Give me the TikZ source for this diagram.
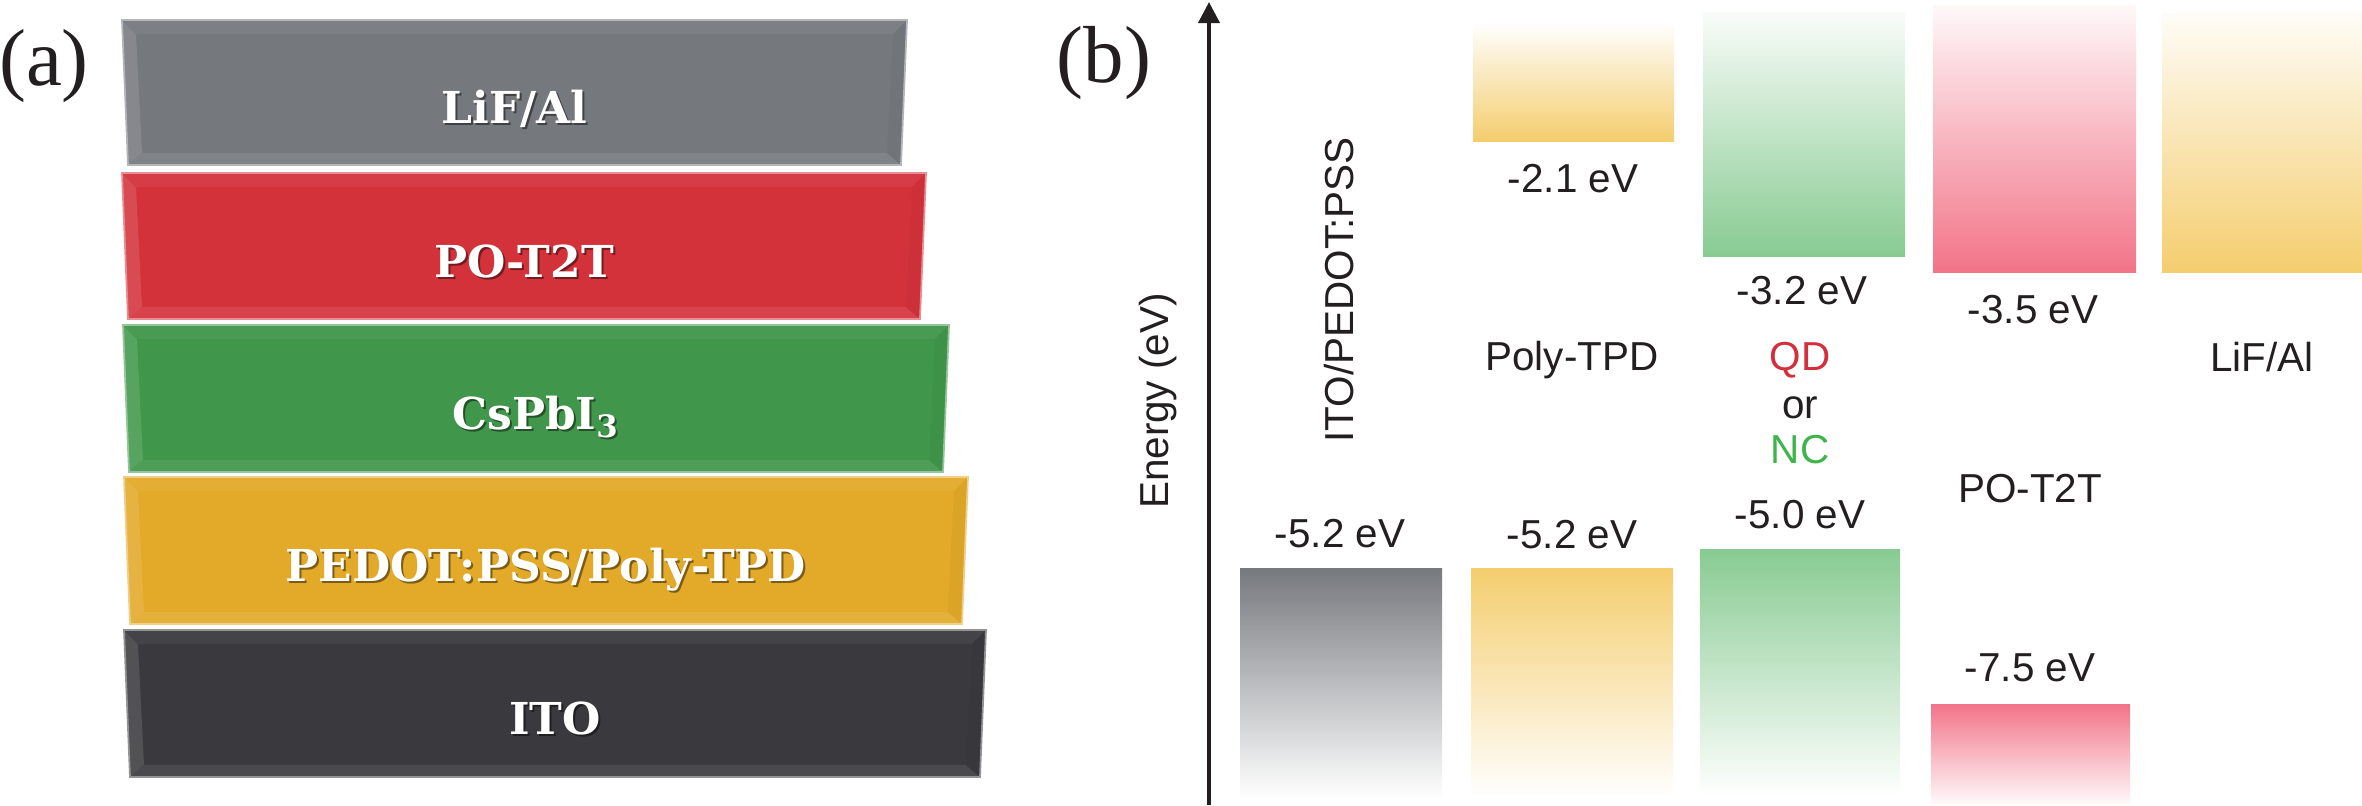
\documentclass[tikz,border=0pt]{standalone}
\usepackage{fontspec}
\setmainfont{Liberation Sans}
\newfontfamily\panelfont{Liberation Serif}
\newfontfamily\slabfont{DejaVu Serif}
\usetikzlibrary{arrows.meta}

\definecolor{lifgray}{HTML}{75787D}
\definecolor{potred}{HTML}{D4323B}
\definecolor{csgreen}{HTML}{40964A}
\definecolor{pedyellow}{HTML}{E3A928}
\definecolor{itodark}{HTML}{3A3A3E}
\definecolor{bargray}{HTML}{76797E}
\definecolor{baryellow}{HTML}{F4CD6E}
\definecolor{bargreen}{HTML}{88CB92}
\definecolor{barpink}{HTML}{F27488}
\definecolor{qdred}{HTML}{D42F3C}
\definecolor{ncgreen}{HTML}{3DB54A}
\definecolor{txt}{HTML}{231F20}

\tikzset{
  boxtext/.style={font=\slabfont\bfseries\fontsize{12.5}{15}\selectfont, text=white, anchor=base, inner sep=0pt},
  boxshadow/.style={boxtext, text=black, opacity=0.45},
  lbl/.style={font=\fontsize{11.5}{13}\selectfont, text=txt, anchor=base, inner sep=0pt},
  paneltag/.style={font=\panelfont\fontsize{23}{27}\selectfont, text=txt, inner sep=0pt},
}

% #1 name, #2 ytop, #3 ybot, #4 xleft, #5 xright, #6 colour, #7 text
\newcommand\layerbox[7]{%
  \fill[#6] (#4,#2) -- (#5,#2) -- ({#5-6},#3) -- ({#4+6},#3) -- cycle;
  \fill[#6!88!white] (#4,#2) -- ({#4+14},{#2+14}) -- ({#4+20},{#3-12}) -- ({#4+6},#3) -- cycle;
  \fill[#6!95!white] (#4,#2) -- (#5,#2) -- ({#5-14},{#2+14}) -- ({#4+14},{#2+14}) -- cycle;
  \fill[#6!92!white] ({#4+6},#3) -- ({#5-6},#3) -- ({#5-20},{#3-12}) -- ({#4+20},{#3-12}) -- cycle;
  \fill[#6!97!black] (#5,#2) -- ({#5-6},#3) -- ({#5-20},{#3-12}) -- ({#5-14},{#2+14}) -- cycle;
  \draw[#6!55!white, line width=0.5pt] (#4,#2) -- (#5,#2) -- ({#5-6},#3) -- ({#4+6},#3) -- cycle;
  \node[boxshadow] (#1s) at ({(#4+#5)/2+2},{(#2+#3)/2+33}) {#7};
  \node[boxtext] (#1) at ({(#4+#5)/2},{(#2+#3)/2+31}) {#7};
}

\begin{document}
\begin{tikzpicture}[x=0.01cm,y=-0.01cm]
\useasboundingbox (0,0) rectangle (2362,805);

% ---------------- panel (a)
\node[paneltag] (taga) at (44,66) {(a)};
\layerbox{lif}{20}{165}{122}{907}{lifgray}{LiF/Al}
\layerbox{pot}{173}{319}{122}{926}{potred}{PO-T2T}
\layerbox{cs}{325}{472}{123}{949}{csgreen}{CsPbI\textsubscript{3}}
\layerbox{ped}{477}{624}{124}{968}{pedyellow}{PEDOT:PSS/Poly-TPD}
\layerbox{ito}{630}{777}{124}{986}{itodark}{ITO}

% ---------------- panel (b)
\node[paneltag] (tagb) at (1104,63) {(b)};
\coordinate (axbot) at (1209,805);
\coordinate (axtop) at (1209,2);
\draw[line width=1.1pt, txt, -{Triangle[width=6pt,length=6pt]}] (axbot) -- (axtop);
\node[lbl, rotate=90] (energy) at (1168,401) {Energy (eV)};
\node[lbl, rotate=90] (itolbl) at (1353,290) {ITO/PEDOT:PSS};

% LUMO bars (fade upward)
\shade[top color=white, middle color=baryellow!45!white, bottom color=baryellow] (1473,22) rectangle (1674,141);
\shade[top color=bargreen!5!white, middle color=bargreen!45!white, bottom color=bargreen] (1703,12) rectangle (1905,256);
\shade[top color=barpink!5!white, middle color=barpink!40!white, bottom color=barpink] (1933,5) rectangle (2136,272);
\shade[top color=baryellow!5!white, middle color=baryellow!50!white, bottom color=baryellow] (2162,13) rectangle (2362,272);

% HOMO bars (fade downward)
\shade[top color=bargray, middle color=bargray!22!white, bottom color=white] (1240,568) rectangle (1442,798);
\shade[top color=baryellow, middle color=baryellow!35!white, bottom color=white] (1471,568) rectangle (1673,798);
\shade[top color=bargreen, middle color=bargreen!38!white, bottom color=white] (1700,549) rectangle (1900,796);
\shade[top color=barpink, middle color=barpink!45!white, bottom color=barpink!5!white] (1931,704) rectangle (2130,803);

% labels
\node[lbl] (l21) at (1573,192) {-2.1 eV};
\node[lbl] (l32) at (1802,304) {-3.2 eV};
\node[lbl] (l35) at (2033,323) {-3.5 eV};
\node[lbl] (ptpd) at (1572,370) {Poly-TPD};
\node[lbl, text=qdred] (qd) at (1800,370) {QD};
\node[lbl] (or) at (1800,418) {or};
\node[lbl, text=ncgreen] (nc) at (1800,463) {NC};
\node[lbl] (lifl) at (2262,371) {LiF/Al};
\node[lbl] (pot2t) at (2030,502) {PO-T2T};
\node[lbl] (h52a) at (1340,547) {-5.2 eV};
\node[lbl] (h52b) at (1572,548) {-5.2 eV};
\node[lbl] (h50) at (1800,528) {-5.0 eV};
\node[lbl] (h75) at (2030,681) {-7.5 eV};
\end{tikzpicture}
\end{document}
